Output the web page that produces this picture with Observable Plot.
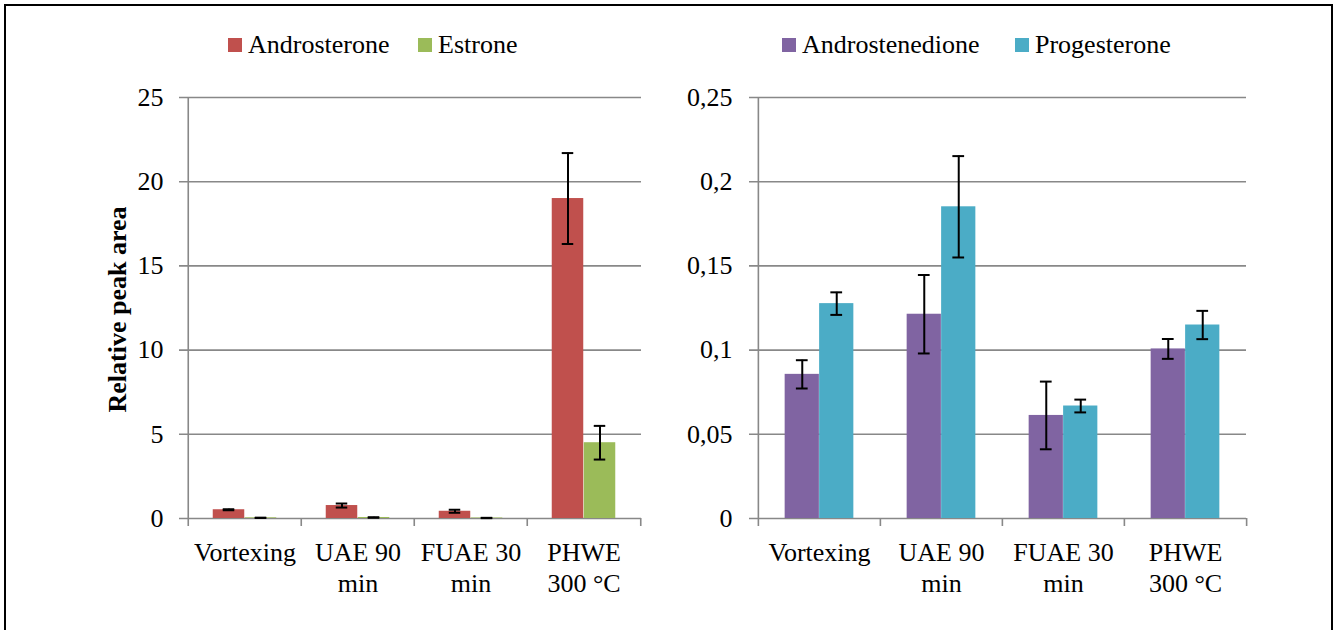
<!DOCTYPE html>
<html>
<head>
<meta charset="utf-8">
<script src="https://cdn.jsdelivr.net/npm/d3@7"></script>
<script src="https://cdn.jsdelivr.net/npm/@observablehq/plot@0.6"></script>
<style>
html, body { margin: 0; padding: 0; background: #fff; }
#page { position: relative; width: 1338px; height: 630px; overflow: hidden; font-family: "Liberation Serif", "Times New Roman", Times, Tinos, "DejaVu Serif", serif; }
#border { position: absolute; left: 4px; top: 4px; width: 1329px; height: 700px; border: 2px solid #000; box-sizing: border-box; pointer-events: none; z-index: 5; }
.panel { position: absolute; top: 0; }
.item { position: absolute; top: 30px; display: flex; align-items: center; font-size: 26px; line-height: 30px; white-space: nowrap; color: #000; }
.sw { width: 14px; height: 14px; margin-right: 6px; }
</style>
</head>
<body>
<div id="page">
  <div id="border"></div>
  <div id="left" class="panel" style="left:0;width:669px"></div>
  <div id="right" class="panel" style="left:669px;width:669px"></div>
  <div id="legends"></div>
</div>
<script>
// ---- data ----
const categories = ["Vortexing", "UAE 90 min", "FUAE 30 min", "PHWE 300 °C"];
const categoryLabels = ["Vortexing", "UAE 90\nmin", "FUAE 30\nmin", "PHWE\n300 °C"];

const leftSeries = ["Androsterone", "Estrone"];
const leftColors = ["#C0504D", "#9BBB59"];
const androsterone = [0.52, 0.77, 0.43, 19.0];
const androsteroneErr = [0.03, 0.12, 0.09, 2.7];
const estrone = [0.04, 0.06, 0.03, 4.5];
const estroneErr = [0.01, 0.01, 0.01, 1.0];

const rightSeries = ["Androstenedione", "Progesterone"];
const rightColors = ["#8064A2", "#4BACC6"];
const androstenedione = [0.0856, 0.1213, 0.0612, 0.1007];
const androstenedioneErr = [0.0084, 0.0233, 0.0201, 0.0059];
const progesterone = [0.1276, 0.1851, 0.0668, 0.1149];
const progesteroneErr = [0.0067, 0.0301, 0.0038, 0.0084];

const leftTicks = [0, 5, 10, 15, 20, 25];
const leftTickLabels = ["0", "5", "10", "15", "20", "25"];
const rightTicks = [0, 0.05, 0.1, 0.15, 0.2, 0.25];
const rightTickLabels = ["0", "0,05", "0,1", "0,15", "0,2", "0,25"];
const yLabel = "Relative peak area";

// ---- drawing ----
const FONT = "'Liberation Serif', 'Times New Roman', Times, Tinos, 'DejaVu Serif', serif";
const GRID = "#888888";
const xLabelMap = new Map(categories.map((c, i) => [c, categoryLabels[i]]));

function rows(values, errs) {
  return categories.map((c, i) => ({cat: c, v: values[i], e: errs[i]}));
}

function panel({width, height, marginLeft, marginRight, marginTop, marginBottom, ticks, tickLabels, tickPadding, seriesData, colors, title}) {
  const bw = (width - marginLeft - marginRight) / categories.length;
  const barW = 0.282 * bw;
  const inner = (bw - 2 * barW) / 2;
  const capHalf = 6;
  const tickMap = new Map(ticks.map((t, i) => [t, tickLabels[i]]));
  const marks = [
    Plot.ruleY(ticks, {y: d => d, stroke: GRID, strokeWidth: 1.6, insetLeft: -8})
  ];
  seriesData.forEach((data, k) => {
    marks.push(Plot.barY(data, {
      x: "cat", y1: 0, y2: "v", fill: colors[k],
      insetLeft: inner + barW * k, insetRight: bw - inner - barW * (k + 1)
    }));
  });
  seriesData.forEach((data, k) => {
    const c = inner + barW * (k + 0.5);
    marks.push(Plot.ruleX(data, {
      x: "cat", y1: d => d.v - d.e, y2: d => d.v + d.e,
      dx: c - bw / 2, stroke: "#000", strokeWidth: 2
    }));
    marks.push(Plot.tickY(data, {
      x: "cat", y: d => d.v + d.e, stroke: "#000", strokeWidth: 2,
      insetLeft: c - capHalf, insetRight: bw - c - capHalf
    }));
    marks.push(Plot.tickY(data, {
      x: "cat", y: d => d.v - d.e, stroke: "#000", strokeWidth: 2,
      insetLeft: c - capHalf, insetRight: bw - c - capHalf
    }));
  });
  const yMax = ticks[ticks.length - 1];
  // y axis line + category boundary ticks
  marks.push(Plot.ruleX([categories[0]], {x: d => d, dx: -bw / 2, y1: yMax, y2: 0, insetBottom: -8, stroke: GRID, strokeWidth: 1.6}));
  marks.push(Plot.ruleX(categories.slice(1), {x: d => d, dx: -bw / 2, y1: 0, y2: 0, insetBottom: -8, stroke: GRID, strokeWidth: 1.6}));
  marks.push(Plot.ruleX([categories[categories.length - 1]], {x: d => d, dx: bw / 2, y1: 0, y2: 0, insetBottom: -8, stroke: GRID, strokeWidth: 1.6}));
  marks.push(Plot.axisY(ticks, {tickSize: 0, tickPadding, tickFormat: d => tickMap.get(d), fontSize: 26, fontFamily: FONT}));
  marks.push(Plot.axisX({tickSize: 0, tickPadding: 20, tickFormat: d => xLabelMap.get(d), lineHeight: 1.2, fontSize: 26, fontFamily: FONT}));
  if (title) {
    marks.push(Plot.text([title], {text: d => d, frameAnchor: "left", textAnchor: "middle", lineAnchor: "middle", rotate: -90, dx: -70, dy: 1.5, fontWeight: "bold", fontSize: 26, fontFamily: FONT}));
  }
  return Plot.plot({
    width, height, marginLeft, marginRight, marginTop, marginBottom,
    style: {background: "transparent", fontFamily: FONT, fontSize: "26px", color: "#000"},
    x: {type: "band", domain: categories, padding: 0, label: null},
    y: {domain: [0, yMax], label: null},
    marks
  });
}

document.getElementById("left").append(panel({
  width: 669, height: 630, marginLeft: 187, marginRight: 28, marginTop: 97, marginBottom: 112,
  ticks: leftTicks, tickLabels: leftTickLabels, tickPadding: 24,
  seriesData: [rows(androsterone, androsteroneErr), rows(estrone, estroneErr)],
  colors: leftColors, title: yLabel
}));

document.getElementById("right").append(panel({
  width: 669, height: 630, marginLeft: 88, marginRight: 92, marginTop: 97, marginBottom: 112,
  ticks: rightTicks, tickLabels: rightTickLabels, tickPadding: 25,
  seriesData: [rows(androstenedione, androstenedioneErr), rows(progesterone, progesteroneErr)],
  colors: rightColors, title: null
}));

// legends
const legendPos = [
  {names: leftSeries, colors: leftColors, xs: [228, 418]},
  {names: rightSeries, colors: rightColors, xs: [782, 1015]}
];
const lg = document.getElementById("legends");
legendPos.forEach(({names, colors, xs}) => {
  names.forEach((n, i) => {
    const it = document.createElement("div");
    it.className = "item";
    it.style.left = xs[i] + "px";
    const sw = document.createElement("span");
    sw.className = "sw";
    sw.style.background = colors[i];
    const tx = document.createElement("span");
    tx.textContent = n;
    it.append(sw, tx);
    lg.append(it);
  });
});
</script>
</body>
</html>
